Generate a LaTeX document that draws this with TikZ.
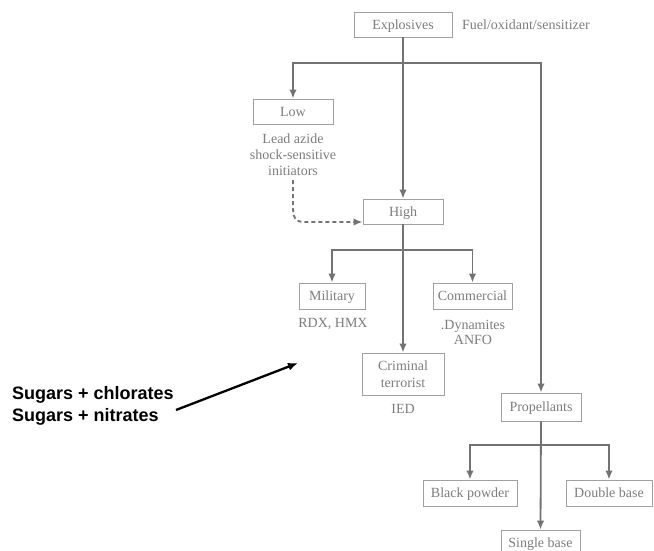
\documentclass[tikz,border=0pt]{standalone}
\usepackage{fontspec}
\setmainfont{Liberation Serif}
\newfontfamily\arialfont{Liberation Sans}
\usetikzlibrary{arrows.meta,calc}
\definecolor{txtgray}{RGB}{125,125,125}
\definecolor{boxgray}{RGB}{160,160,160}
\definecolor{linegray}{RGB}{115,115,115}
\tikzset{
  cbox/.style={draw=boxgray, line width=0.9pt, text=txtgray, font=\fontsize{14}{16}\selectfont, inner sep=0pt, align=center},
  onel/.style={text height=9.5pt, text depth=0.5pt},
  gtext/.style={text=txtgray, font=\fontsize{14}{16}\selectfont, inner sep=0pt, align=center},
  conn/.style={draw=linegray, line width=1.8pt, -{Latex[length=9pt,width=7.5pt]}},
  dconn/.style={draw=linegray, line width=1.8pt, dash pattern=on 4pt off 3pt, -{Latex[length=9pt,width=7.5pt]}},
  bconn/.style={draw=black, line width=2.3pt, -{Latex[length=10pt,width=8pt]}}
}
\begin{document}
\begin{tikzpicture}[x=1pt,y=-1pt]
\useasboundingbox (0,0) rectangle (654,550);
\clip (0,0) rectangle (654,550);
\fill[white] (0,0) rectangle (654,550);
% boxes
\node[cbox, onel, minimum width=98pt, minimum height=25pt] (expl) at (403,24.5) {Explosives};
\node[gtext, anchor=west] (fuel) at (462,25) {Fuel/oxidant/sensitizer};
\node[cbox, onel, minimum width=80pt, minimum height=25pt] (low) at (293,111.5) {Low};
\node[gtext] (lowtxt) at (293,155) {Lead azide\\shock-sensitive\\initiators};
\node[cbox, onel, minimum width=80pt, minimum height=25pt] (high) at (403,211.5) {High};
\node[cbox, onel, minimum width=66pt, minimum height=26pt] (mil) at (332,296) {Military};
\node[gtext] (rdx) at (333,324) {RDX, HMX};
\node[cbox, onel, minimum width=79pt, minimum height=26pt] (com) at (472.5,296) {Commercial};
\node[gtext, font=\fontsize{14}{15}\selectfont] (dyn) at (473,332.5) {.Dynamites\\ANFO};
\node[cbox, minimum width=82pt, minimum height=42pt, font=\fontsize{14}{17}\selectfont] (crim) at (403,374) {Criminal\\terrorist};
\node[gtext] (ied) at (403,409) {IED};
\node[cbox, onel, minimum width=80pt, minimum height=28pt] (prop) at (541,407) {Propellants};
\node[cbox, onel, minimum width=94pt, minimum height=26pt] (bpow) at (470,493) {Black powder};
\node[cbox, onel, minimum width=86pt, minimum height=26pt] (dbase) at (609,493) {Double base};
\node[cbox, onel, minimum width=79pt, minimum height=26pt] (sbase) at (540.5,543) {Single base};
% connectors
\coordinate (b1) at (403,63);
\draw[conn] (expl.south) -- (high.north);
\draw[conn] (b1) -| (low.north);
\draw[conn] (b1) -| (prop.north);
\coordinate (b2) at (403,250);
\draw[conn] (high.south) -- (crim.north);
\draw[conn] (b2) -| (mil.north);
\draw[conn] (b2) -| (com.north);
\coordinate (b3) at (541,445);
\draw[conn] (prop.south) -- (sbase.north);
\draw[conn] (b3) -| (bpow.north);
\draw[conn] (b3) -| (dbase.north);
\coordinate (hd) at (363,222);
\draw[dconn] ($(lowtxt.south)+(0,4)$) -- (293,207) .. controls (293,222) and (298,222) .. (308,222) -- (high.west |- hd);
% annotation
\node[anchor=west, font=\arialfont\bfseries\fontsize{18}{22}\selectfont, align=left, inner sep=0pt] (sugar) at (12,406) {Sugars + chlorates\\Sugars + nitrates};
\coordinate (sugarend) at (298,363);
\draw[bconn] ($(sugar.east)+(2,4)$) -- (sugarend);
\end{tikzpicture}
\end{document}
